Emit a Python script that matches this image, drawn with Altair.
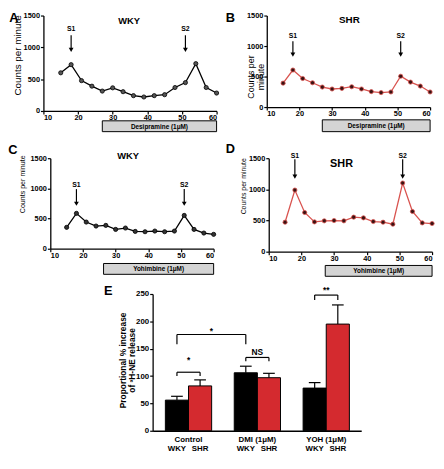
import altair as alt
import pandas as pd

# ---------------- data ----------------
minutes = [15, 18, 21, 24, 27, 30, 33, 36, 39, 42, 45, 48, 51, 54, 57, 60]
wky_dmi = [600, 728, 477, 390, 313, 364, 303, 241, 220, 241, 256, 369, 446, 744, 369, 282]
shr_dmi = [392, 607, 468, 398, 328, 296, 306, 333, 296, 253, 237, 247, 505, 409, 344, 247]
wky_yoh = [354, 586, 442, 376, 387, 320, 343, 287, 282, 293, 282, 293, 552, 320, 260, 238]
shr_yoh = [473, 989, 629, 478, 495, 500, 495, 554, 543, 484, 473, 441, 1102, 645, 462, 452]

stim_labels = ["S1", "S2"]
stim_times = [18, 51]

groups = ["Control", "DMI (1μM)", "YOH (1μM)"]
strains = ["WKY", "SHR"]
wky_mean = [56, 106, 78]
wky_sem = [7, 12, 10]
shr_mean = [82, 97, 195]
shr_sem = [11, 8, 35]

sig_labels = ["*", "*", "NS", "**"]

FONT = "Liberation Sans"
RED_LINE = "#d9534f"
RED_BAR = "#d42a2f"


def ax(**kw):
    base = dict(domainColor="black", domainWidth=1.3, tickColor="black", tickWidth=1.2,
                tickSize=3, labelFont=FONT, labelFontWeight="bold", labelFontSize=7.5,
                labelColor="black", labelPadding=0, grid=False, titleFont=FONT,
                titleColor="black", titleFontWeight="normal", format="d")
    base.update(kw)
    return alt.Axis(**base)


dummy = pd.DataFrame({"a": [0]})


def label_text(txt, xy, size, weight="bold"):
    return alt.Chart(dummy).mark_text(text=txt, font=FONT, fontSize=size, fontWeight=weight,
                                      color="black", align="center", baseline="middle").encode(
        x=alt.value(xy[0]), y=alt.value(xy[1]))


def ts_panel(vals, line_color, pt_fill, pt_stroke, w, h, title, title_xy, title_size,
             letter, letter_xy, ytitle, ytitle_xy, ytitle_size, drug, drug_x0, box_y,
             s_text_y, s_top, s_tip):
    df = pd.DataFrame({"min": minutes, "cpm": vals})
    x = alt.X("min:Q", scale=alt.Scale(domain=[10, 60], nice=False, zero=False),
              axis=ax(values=[10, 20, 30, 40, 50, 60], title=None))
    y = alt.Y("cpm:Q", scale=alt.Scale(domain=[0, 1500], nice=False),
              axis=ax(values=[0, 500, 1000, 1500], title=ytitle, titleX=ytitle_xy[0],
                      titleY=ytitle_xy[1], titleFontSize=ytitle_size, titleAlign="center",
                      titleBaseline="middle", titleAngle=270, titleLineHeight=ytitle_size + 1,
                      labelPadding=1))
    base = alt.Chart(df).encode(x=x, y=y)
    line = base.mark_line(color=line_color, strokeWidth=1.3)
    pts = base.mark_circle(size=18, fill=pt_fill, stroke=pt_stroke, strokeWidth=0.8, opacity=1)

    adf = pd.DataFrame({"min": stim_times, "cpm": [s_tip] * 2, "top": [s_top] * 2})
    arrow_line = alt.Chart(adf).mark_rule(color="black", strokeWidth=1.2).encode(
        x=x, y=y, y2="top:Q")
    arrow_head = alt.Chart(adf).mark_point(shape="triangle-down", filled=True, color="black",
                                           size=24, opacity=1).encode(x=x, y=y)
    tdf = pd.DataFrame({"min": stim_times, "cpm": [s_text_y] * 2, "lab": stim_labels})
    arrow_txt = alt.Chart(tdf).mark_text(font=FONT, fontWeight="bold", fontSize=7,
                                         color="black", baseline="middle").encode(
        x=x, y=y, text="lab:N")

    bdf = pd.DataFrame({"min": [drug_x0], "min2": [60]})
    box = alt.Chart(bdf).mark_rect(fill="#d4d4d4", stroke="black", strokeWidth=1).encode(
        x=x, x2="min2:Q", y=alt.value(box_y[0]), y2=alt.value(box_y[1]))
    btdf = pd.DataFrame({"min": [(drug_x0 + 60) / 2], "lab": [drug]})
    boxt = alt.Chart(btdf).mark_text(font=FONT, fontWeight="bold", fontSize=6.5, color="black",
                                     baseline="middle").encode(
        x=x, y=alt.value((box_y[0] + box_y[1]) / 2 + 0.5), text="lab:N")

    title_t = label_text(title, title_xy, title_size)
    letter_t = label_text(letter, letter_xy, 13)
    return alt.layer(line, pts, arrow_line, arrow_head, arrow_txt, box, boxt, title_t,
                     letter_t).properties(width=w, height=h)


A = ts_panel(wky_dmi, "black", "#555555", "black", 176, 97, "WKY", (87, 6), 9.5,
             "A", (-30, 3), "Counts per minute", (-26, 40), 10, "Desipramine (1μM)", 27,
             (107, 118), 1283, 1190, 960)
B = ts_panel(shr_dmi, RED_LINE, "#3b1212", RED_LINE, 166, 93, "SHR", (84, 5), 10,
             "B", (-37, 3), ["Counts per", "minute"], (-16, 62), 9, "Desipramine (1μM)", 27,
             (106, 118), 1161, 1080, 860)
C = ts_panel(wky_yoh, "black", "#333333", "black", 166, 92, "WKY", (79, -2), 9.5,
             "C", (-38, -8), "Counts per minute", (-28, 26), 7.2, "Yohimbine (1μM)", 26.3,
             (107, 118), 1054, 988, 745)
D = ts_panel(shr_yoh, RED_LINE, "#3b1212", RED_LINE, 166, 95, "SHR", (74, 6), 11,
             "D", (-39, -9), "Counts per minute", (-26, 28), 7, "Yohimbine (1μM)", 27.3,
             (109, 120), 1532, 1485, 1205)

# ---------------- panel E ----------------
EH = 139
half = 0.336
rows = []
for gi, g in enumerate(groups):
    for s, means, sems in (("WKY", wky_mean, wky_sem), ("SHR", shr_mean, shr_sem)):
        x0 = gi - half if s == "WKY" else gi
        x1 = gi if s == "WKY" else gi + half
        m = means[gi]
        e = sems[gi]
        rows.append({"group": g, "strain": s, "pos": x0, "pos2": x1, "val": m, "val0": 0,
                     "center": (x0 + x1) / 2, "top": m + e})
bdfE = pd.DataFrame(rows)

xE = alt.X("pos:Q", scale=alt.Scale(domain=[-0.521, 2.508], nice=False, zero=False),
           axis=alt.Axis(domainColor="black", domainWidth=1.5, ticks=False, labels=False,
                         title=None, grid=False))
yE = alt.Y("val:Q", scale=alt.Scale(domain=[0, 250], nice=False),
           axis=ax(values=[0, 50, 100, 150, 200, 250], labelFontSize=8, labelPadding=1,
                   title=["Proportional % increase", "of ³H-NE release"], titleFontWeight="bold",
                   titleFontSize=8.5, titleX=-31, titleY=67, titleAlign="center",
                   titleBaseline="middle", titleAngle=270, titleLineHeight=10))

bars = alt.Chart(bdfE).mark_rect(stroke="black", strokeWidth=1).encode(
    x=xE, x2="pos2:Q", y=yE, y2="val0:Q",
    color=alt.Color("strain:N", scale=alt.Scale(domain=strains, range=["#000000", RED_BAR]),
                    legend=None))

err_df = pd.DataFrame({"pos": bdfE["center"], "val": bdfE["val"], "top": bdfE["top"]})
err = alt.Chart(err_df).mark_rule(color="black", strokeWidth=1.2).encode(x=xE, y=yE, y2="top:Q")
cap_df = pd.DataFrame({"pos": bdfE["center"] - 0.085, "pos2": bdfE["center"] + 0.085,
                       "val": bdfE["top"]})
caps = alt.Chart(cap_df).mark_rule(color="black", strokeWidth=1.2).encode(
    x=xE, x2="pos2:Q", y=yE)

cw = [c for c in bdfE["center"]]  # bar centres: WKY/SHR for each group
brackets = [
    (cw[0], cw[1], 107, 100),
    (cw[0], cw[2], 176, 158),
    (cw[2], cw[3], 134, 127),
    (cw[4], cw[5], 248, 239),
]
sig_y = [129, 183, 144, 257]
seg = []
for (xa, xb, yt, ye) in brackets:
    seg.append({"pos": xa, "pos2": xb, "val": yt, "val2": yt})
    seg.append({"pos": xa, "pos2": xa, "val": ye, "val2": yt})
    seg.append({"pos": xb, "pos2": xb, "val": ye, "val2": yt})
seg_df = pd.DataFrame(seg)
bracket_rules = alt.Chart(seg_df).mark_rule(color="black", strokeWidth=1.2).encode(
    x=xE, x2="pos2:Q", y=yE, y2="val2:Q")
sig_df = pd.DataFrame({"pos": [(b[0] + b[1]) / 2 for b in brackets], "val": sig_y,
                       "lab": sig_labels})
sig_txt = alt.Chart(sig_df).mark_text(font=FONT, fontWeight="bold", fontSize=8.5,
                                      color="black", baseline="middle").encode(
    x=xE, y=yE, text="lab:N")

cat_df = pd.DataFrame({"pos": [0, 1, 2], "lab": groups})
cat_txt = alt.Chart(cat_df).mark_text(font=FONT, fontWeight="bold", fontSize=8,
                                      color="black", baseline="middle").encode(
    x=xE, y=alt.value(EH + 9), text="lab:N")
str_df = pd.DataFrame({"pos": bdfE["center"], "lab": bdfE["strain"]})
str_txt = alt.Chart(str_df).mark_text(font=FONT, fontWeight="bold", fontSize=8,
                                      color="black", baseline="middle").encode(
    x=xE, y=alt.value(EH + 19), text="lab:N")

E = alt.layer(bars, err, caps, bracket_rules, sig_txt, cat_txt, str_txt,
              label_text("E", (-45, -3), 13)).properties(width=212, height=EH)


def spacer(w, mark_x):
    # invisible placeholder; its mark sits under the following panel so it adds no extent
    return alt.Chart(dummy).mark_rule(opacity=0).encode(
        x=alt.value(mark_x), y=alt.value(20), y2=alt.value(21)).properties(width=w, height=1)


row1 = alt.hconcat(A, B, spacing=51, bounds="flush")
row2 = alt.hconcat(spacer(1, 30), alt.hconcat(C, D, spacing=56, bounds="flush"),
                   spacing=6, bounds="flush")
row3 = alt.hconcat(spacer(1, 130), E, spacing=110, bounds="flush")

chart = alt.vconcat(
    alt.vconcat(row1, row2, spacing=11), row3, spacing=8
).properties(
    padding=0
).configure(padding=0).configure_view(strokeWidth=0)

chart.save("out.html", embed_options={"renderer": "svg", "actions": False})
